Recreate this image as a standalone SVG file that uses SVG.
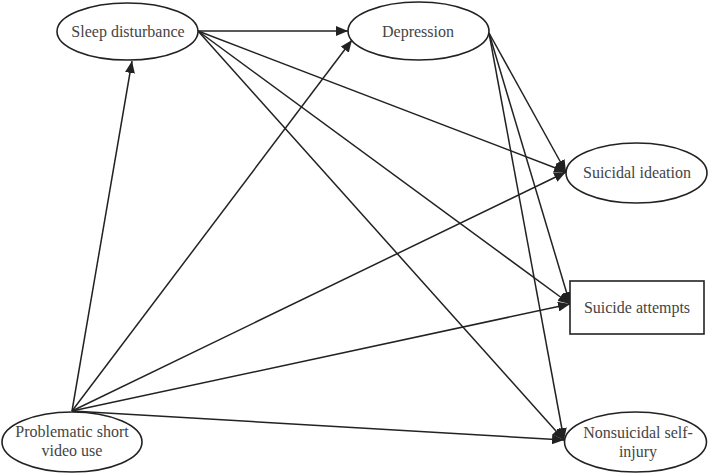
<svg xmlns="http://www.w3.org/2000/svg" width="708" height="473" viewBox="0 0 708 473">
<style>
.n{fill:#fff;stroke:#222;stroke-width:1.6}
.t{font-family:"Liberation Serif","Times New Roman",serif;font-size:16px;fill:#444;text-anchor:middle}
.e{stroke:#222;stroke-width:1.5;fill:none;marker-end:url(#ah)}
</style>
<defs>
<marker id="ah" viewBox="0 0 12 10" refX="12" refY="5" markerWidth="12" markerHeight="10" markerUnits="userSpaceOnUse" orient="auto">
<path d="M0,0 L12,5 L0,10 z" fill="#222"/>
</marker>
</defs>
<rect width="708" height="473" fill="#fff"/>
<g id="connectors">
<line class="e" x1="198" y1="31" x2="348" y2="31"/>
<line class="e" x1="198" y1="31" x2="566" y2="172"/>
<line class="e" x1="198" y1="31" x2="570" y2="304"/>
<line class="e" x1="198" y1="31" x2="564" y2="440"/>
<line class="e" x1="489" y1="33" x2="566" y2="172"/>
<line class="e" x1="489" y1="33" x2="570" y2="304"/>
<line class="e" x1="489" y1="33" x2="564" y2="440"/>
<line class="e" x1="72" y1="411" x2="132" y2="61"/>
<line class="e" x1="72" y1="411" x2="352" y2="40"/>
<line class="e" x1="72" y1="411" x2="566" y2="172"/>
<line class="e" x1="72" y1="411" x2="570" y2="304"/>
<line class="e" x1="72" y1="411" x2="564" y2="440"/>
</g>
<g id="sleep">
<ellipse class="n" cx="127.5" cy="31.5" rx="70.5" ry="28.5"/>
<text class="t" x="128" y="37">Sleep disturbance</text>
</g>
<g id="depression">
<ellipse class="n" cx="418.5" cy="31" rx="70.5" ry="29"/>
<text class="t" x="418" y="37">Depression</text>
</g>
<g id="ideation">
<ellipse class="n" cx="636.5" cy="173" rx="70.5" ry="30"/>
<text class="t" x="637" y="178">Suicidal ideation</text>
</g>
<g id="attempts">
<rect class="n" x="570" y="281" width="134" height="53"/>
<text class="t" x="637" y="313">Suicide attempts</text>
</g>
<g id="nssi">
<ellipse class="n" cx="635.5" cy="442" rx="71" ry="30"/>
<text class="t" x="638" y="438">Nonsuicidal self-</text>
<text class="t" x="638" y="457">injury</text>
</g>
<g id="psvu">
<ellipse class="n" cx="72" cy="442" rx="70" ry="30"/>
<text class="t" x="72" y="437">Problematic short</text>
<text class="t" x="72" y="456">video use</text>
</g>
</svg>
